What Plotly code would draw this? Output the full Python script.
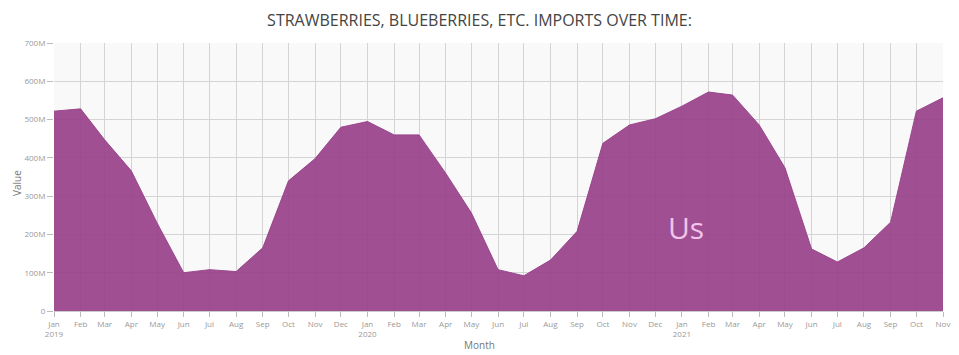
import plotly.graph_objects as go

months = ["2019-01-01","2019-02-01","2019-03-01","2019-04-01","2019-05-01","2019-06-01",
          "2019-07-01","2019-08-01","2019-09-01","2019-10-01","2019-11-01","2019-12-01",
          "2020-01-01","2020-02-01","2020-03-01","2020-04-01","2020-05-01","2020-06-01",
          "2020-07-01","2020-08-01","2020-09-01","2020-10-01","2020-11-01","2020-12-01",
          "2021-01-01","2021-02-01","2021-03-01","2021-04-01","2021-05-01","2021-06-01",
          "2021-07-01","2021-08-01","2021-09-01","2021-10-01","2021-11-01"]
values_m = [522, 528, 447, 366, 230, 100,
            108, 103, 165, 340, 398, 480,
            495, 460, 460, 360, 256, 108,
            92, 133, 208, 438, 486, 502,
            535, 572, 564, 486, 374, 162,
            128, 165, 232, 522, 557]
values = [v * 1e6 for v in values_m]
tick_text = ["Jan<br>2019","Feb","Mar","Apr","May","Jun","Jul","Aug","Sep","Oct","Nov","Dec",
             "Jan<br>2020","Feb","Mar","Apr","May","Jun","Jul","Aug","Sep","Oct","Nov","Dec",
             "Jan<br>2021","Feb","Mar","Apr","May","Jun","Jul","Aug","Sep","Oct","Nov"]
y_ticks = [0, 100e6, 200e6, 300e6, 400e6, 500e6, 600e6, 700e6]
y_tick_text = ["0", "100M", "200M", "300M", "400M", "500M", "600M", "700M"]
series_name = "Us"

# page has an 8px body margin; figure sized to fit the window
W, H = 943, 347
ML, MR, MT, MB = 46, 8, 35, 44
PW, PH = W - ML - MR, H - MT - MB

fig = go.Figure()
fig.add_trace(go.Scatter(
    x=months, y=values, name=series_name, mode="lines",
    fill="tozeroy", fillcolor="rgba(152,66,138,0.93)",
    line=dict(color="rgba(152,66,138,0.93)", width=1),
))
fig.add_annotation(x="2021-01-06", y=217e6, text=series_name, showarrow=False,
                   font=dict(size=30, color="#f2c4ea", family="Open Sans"))
# axis titles as paper annotations
fig.add_annotation(xref="paper", yref="paper", x=(0 - ML) / PW, xanchor="left",
                   y=(H - MB - 175) / PH, text="Value", textangle=-90,
                   showarrow=False, font=dict(size=10, color="#777", family="Open Sans"))
fig.add_annotation(xref="paper", yref="paper", x=(471 - ML) / PW,
                   y=-(H - 1 - (H - MB)) / PH, yanchor="bottom", text="Month",
                   showarrow=False, font=dict(size=10, color="#777", family="Open Sans"))

fig.update_layout(
    width=W, height=H,
    margin=dict(l=ML, r=MR, t=MT, b=MB, autoexpand=False),
    paper_bgcolor="white", plot_bgcolor="#f9f9f9",
    showlegend=False,
    font=dict(family="Open Sans", color="#888", size=8),
    title=dict(text="STRAWBERRIES, BLUEBERRIES, ETC. IMPORTS OVER TIME:",
               x=0.5, xanchor="center", y=1 - 12 / H, yanchor="middle",
               font=dict(size=16, color="#444", family="Open Sans")),
)
fig.update_xaxes(
    range=[months[0], months[-1]], automargin=False,
    tickvals=months, ticktext=tick_text, tickangle=0,
    showgrid=True, gridcolor="#d4d4d4", gridwidth=1,
    ticks="outside", ticklen=5, tickcolor="#bbb",
    showline=True, linecolor="#ccc",
    tickfont=dict(size=8, color="#999"), zeroline=False,
)
fig.update_yaxes(
    range=[0, 700e6], automargin=False,
    tickvals=y_ticks, ticktext=y_tick_text,
    showgrid=True, gridcolor="#d4d4d4", gridwidth=1,
    ticks="outside", ticklen=6, tickcolor="#bbb",
    showline=False, zeroline=False,
    tickfont=dict(size=8, color="#999"),
)
fig.write_html("out.html")
